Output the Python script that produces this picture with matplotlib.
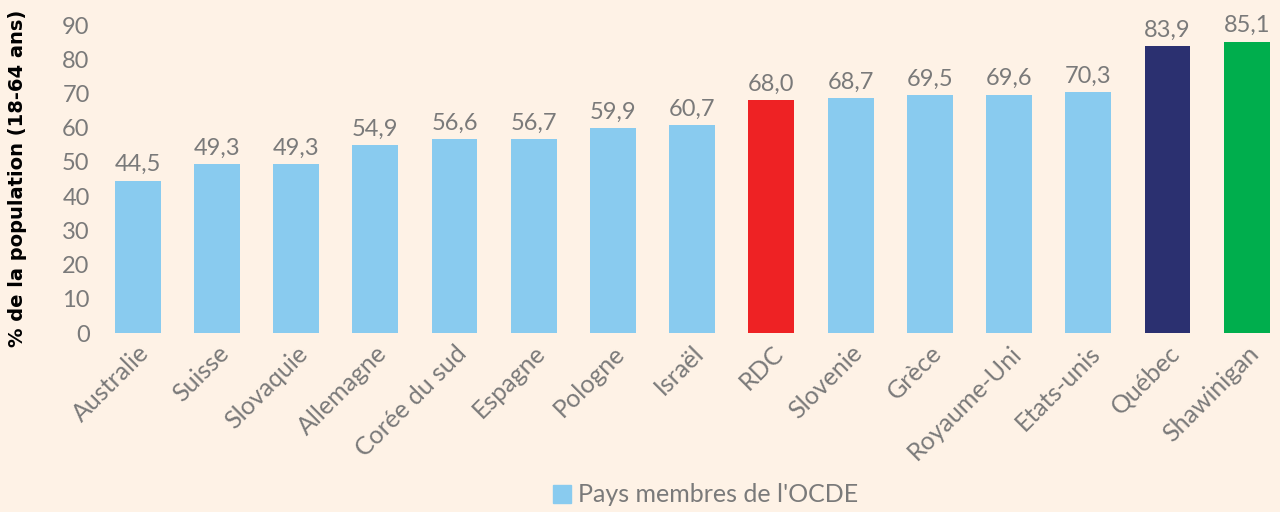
import matplotlib
matplotlib.use("Agg")
import matplotlib.pyplot as plt
from matplotlib.patches import Patch

categories = ["Australie", "Suisse", "Slovaquie", "Allemagne", "Corée du sud", "Espagne",
              "Pologne", "Israël", "RDC", "Slovenie", "Grèce", "Royaume-Uni", "Etats-unis",
              "Québec", "Shawinigan"]
values = [44.5, 49.3, 49.3, 54.9, 56.6, 56.7, 59.9, 60.7, 68.0, 68.7, 69.5, 69.6, 70.3, 83.9, 85.1]
value_labels = ["44,5", "49,3", "49,3", "54,9", "56,6", "56,7", "59,9", "60,7", "68,0", "68,7",
                "69,5", "69,6", "70,3", "83,9", "85,1"]
yticks = [0, 10, 20, 30, 40, 50, 60, 70, 80, 90]

bg = "#FEF2E6"
blue = "#89CBEF"
special = {"RDC": "#EE2224", "Québec": "#2B3070", "Shawinigan": "#00AE4D"}
colors = [special.get(c, blue) for c in categories]
gray = "#7a7a7a"

plt.rcParams['font.family'] = ['Lato', 'DejaVu Sans']

fig = plt.figure(figsize=(12.8, 5.12), dpi=100, facecolor=bg)
ax = fig.add_axes([98/1280, (512-333)/512, (1280-98)/1280, (333-25)/512])
ax.set_facecolor(bg)

x = list(range(len(categories)))
ax.bar(x, values, width=0.58, color=colors, zorder=2)
for xi, v, lab in zip(x, values, value_labels):
    ax.text(xi, v + 1.6, lab, ha="center", va="bottom", fontsize=17, color=gray,
            clip_on=False)

ax.set_xlim(-0.5, 14.42)
ax.set_ylim(0, 90)
ax.set_yticks(yticks)
ax.set_yticklabels([str(t) for t in yticks], fontsize=17, color=gray)
ax.set_xticks(x)
ax.set_xticklabels(categories, rotation=45, ha="right", rotation_mode="anchor",
                   fontsize=18, color=gray)
ax.tick_params(axis="both", length=0)
ax.tick_params(axis="y", pad=6)
ax.tick_params(axis="x", pad=6)
for s in ax.spines.values():
    s.set_visible(False)

fig.text(18/1280, (512-178)/512, "% de la population (18-64 ans)", rotation=90,
         ha="center", va="center", fontsize=14, fontweight="bold", color="black",
         family="DejaVu Sans")

fig.legend(handles=[Patch(color=blue, label="Pays membres de l'OCDE")],
           loc="center", bbox_to_anchor=(706/1280, 1 - 495/512), frameon=False,
           labelcolor=gray, handlelength=0.7, handleheight=0.7,
           handletextpad=0.3, prop={"size": 18})

fig.savefig("out.png", dpi=100, facecolor=bg)
